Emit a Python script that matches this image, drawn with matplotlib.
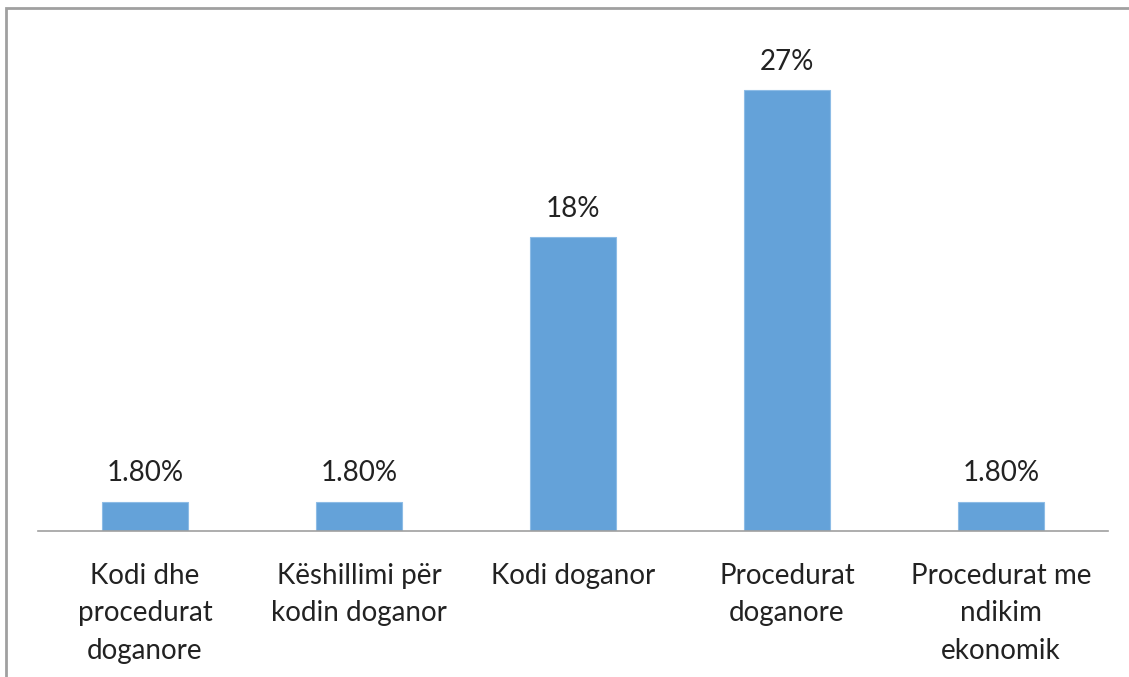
import matplotlib
matplotlib.use("Agg")
import matplotlib.pyplot as plt
from matplotlib.patches import Rectangle

categories = ["Kodi dhe\nprocedurat\ndoganore", "Këshillimi për\nkodin doganor",
              "Kodi doganor", "Procedurat\ndoganore", "Procedurat me\nndikim\nekonomik"]
values = [1.8, 1.8, 18, 27, 1.8]
labels = ["1.80%", "1.80%", "18%", "27%", "1.80%"]

plt.rcParams['font.family'] = ['Lato', 'DejaVu Sans']

W, H = 1129, 677
fig = plt.figure(figsize=(W / 100, H / 100), dpi=100)
fig.patch.set_facecolor('white')

# chart frame (extends beyond right/bottom edges)
fig.patches.append(Rectangle((6 / W, -0.1), 1.2, 1 - 8 / H + 0.1, transform=fig.transFigure,
                             fill=False, edgecolor='#A0A0A0', linewidth=2, zorder=0))

left, right = 38, 1108
bottom_px, top_px = 531, 41
ax = fig.add_axes([left / W, 1 - bottom_px / H, (right - left) / W, (bottom_px - top_px) / H])
ax.set_facecolor('none')

x = list(range(len(values)))
bars = ax.bar(x, values, width=0.4, color='#64A2D9', edgecolor='#8DBCE6', linewidth=0.8)
ax.set_xlim(-0.5, len(values) - 0.5)
ax.set_ylim(0, 30)

for xi, v, lab in zip(x, values, labels):
    ax.annotate(lab, (xi, v), xytext=(0, 11), textcoords='offset points',
                ha='center', va='bottom', fontsize=20, color='#222222')

for s in ['top', 'right', 'left']:
    ax.spines[s].set_visible(False)
ax.spines['bottom'].set_color('#A0A0A0')
ax.spines['bottom'].set_linewidth(1.2)
ax.set_yticks([])
ax.set_xticks(x)
ax.set_xticklabels(categories, fontsize=20, color='#222222', linespacing=1.55)
ax.tick_params(axis='x', length=0, pad=23)

fig.savefig("out.png", dpi=100)
